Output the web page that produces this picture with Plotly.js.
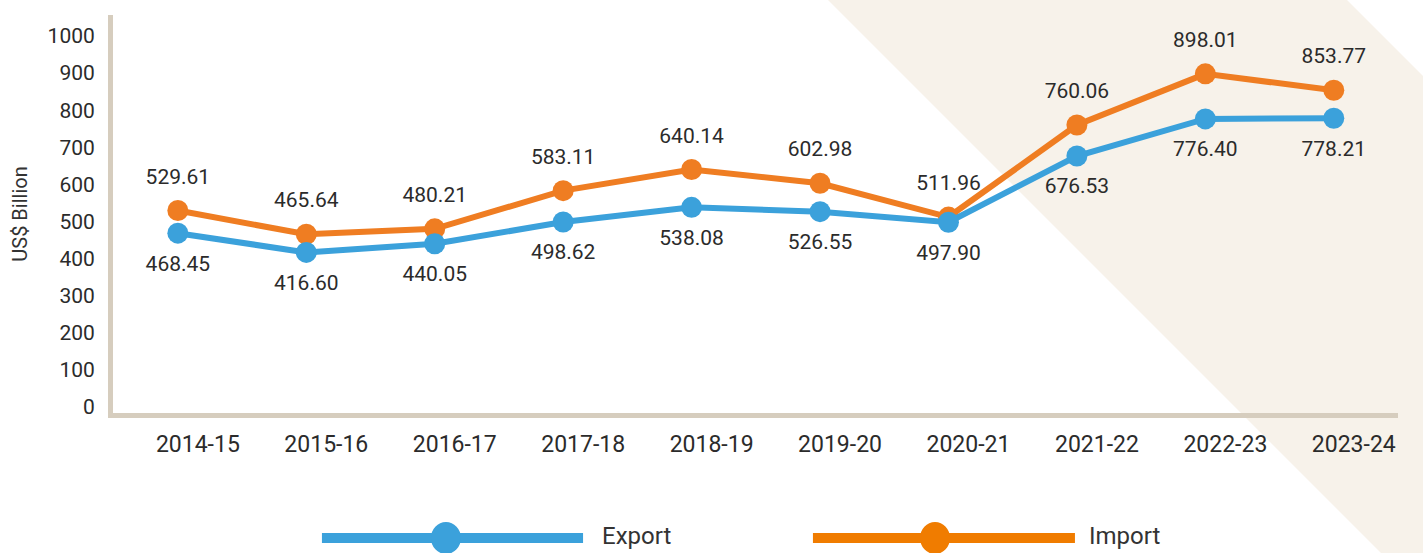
<!DOCTYPE html>
<html>
<head>
<meta charset="utf-8">
<script src="https://cdn.plot.ly/plotly-3.0.1.min.js"></script>
<style>html,body{margin:0;padding:0;background:#fff;}#chart{width:1423px;height:553px;}</style>
</head>
<body>
<div id="chart"></div>
<script>
const years = ["2014-15","2015-16","2016-17","2017-18","2018-19","2019-20","2020-21","2021-22","2022-23","2023-24"];
const exportVals = [468.45,416.60,440.05,498.62,538.08,526.55,497.90,676.53,776.40,778.21];
const importVals = [529.61,465.64,480.21,583.11,640.14,602.98,511.96,760.06,898.01,853.77];
const yTicks = [0,100,200,300,400,500,600,700,800,900,1000];

const BLUE = "#3BA1DB", ORANGE = "#EF7D22", AXIS = "#D6CDBE", TXT = "#2b2b2b";
const FONT = "Roboto, 'Noto Sans', sans-serif";

const fmt = v => v.toFixed(2);

const traces = [
  {x: years, y: importVals, name: "Import", mode: "lines+markers",
   line: {color: ORANGE, width: 6}, marker: {color: ORANGE, size: 21}, showlegend: false},
  {x: years, y: exportVals, name: "Export", mode: "lines+markers",
   line: {color: BLUE, width: 6}, marker: {color: BLUE, size: 21}, showlegend: false},
  {x: years, y: importVals, mode: "markers+text", text: importVals.map(fmt), textposition: "top center",
   marker: {size: 33, color: "rgba(0,0,0,0)"}, textfont: {family: FONT, size: 21, color: TXT},
   showlegend: false, hoverinfo: "skip"},
  {x: years, y: exportVals, mode: "markers+text", text: exportVals.map(fmt), textposition: "bottom center",
   marker: {size: 33, color: "rgba(0,0,0,0)"}, textfont: {family: FONT, size: 21, color: TXT},
   showlegend: false, hoverinfo: "skip"}
];

const legY = -0.3141;
const shapes = [
  {type: "path", xref: "paper", yref: "paper", layer: "below",
   path: "M0.5525,1.0503 L0.9564,1.0503 L1.0327,0.804 L1.0327,-0.3693 L0.9922,-0.3693 Z",
   fillcolor: "rgb(247,242,234)", line: {width: 0}},
  {type: "line", xref: "paper", yref: "paper", x0: 0.1626, x1: 0.3658, y0: legY, y1: legY,
   line: {color: BLUE, width: 10}},
  {type: "circle", xref: "paper", yref: "paper", xsizemode: "pixel", ysizemode: "pixel",
   xanchor: 0.2591, yanchor: legY, x0: -15, x1: 15, y0: -16, y1: 16, fillcolor: BLUE, line: {width: 0}},
  {type: "line", xref: "paper", yref: "paper", x0: 0.5447, x1: 0.7486, y0: legY, y1: legY,
   line: {color: "#F07C00", width: 10}},
  {type: "circle", xref: "paper", yref: "paper", xsizemode: "pixel", ysizemode: "pixel",
   xanchor: 0.6397, yanchor: legY, x0: -15, x1: 15, y0: -16, y1: 16, fillcolor: "#F07C00", line: {width: 0}}
];

const annotations = [
  {xref: "paper", yref: "paper", x: 0.3790, y: -0.3090, xanchor: "left", yanchor: "middle",
   text: "Export", showarrow: false, font: {family: FONT, size: 24, color: "#333"}},
  {xref: "paper", yref: "paper", x: 0.7580, y: -0.3090, xanchor: "left", yanchor: "middle",
   text: "Import", showarrow: false, font: {family: FONT, size: 24, color: "#333"}}
];

const layout = {
  width: 1423, height: 553,
  margin: {l: 113, r: 25, t: 15, b: 140, pad: 0},
  paper_bgcolor: "#ffffff", plot_bgcolor: "rgba(0,0,0,0)",
  showlegend: false,
  font: {family: FONT, color: TXT},
  xaxis: {
    type: "category", range: [-0.505, 9.5], showgrid: false, zeroline: false,
    showline: true, linecolor: AXIS, linewidth: 5, ticks: "",
    tickfont: {family: FONT, size: 23, color: TXT}, ticklabelstandoff: 6, ticklabelshift: 20,
    fixedrange: true
  },
  yaxis: {
    range: [-16.2, 1056.6], tickvals: yTicks, ticktext: yTicks.map(String),
    showgrid: false, zeroline: false, showline: true, linecolor: AXIS, linewidth: 5, ticks: "",
    tickfont: {family: FONT, size: 21, color: TXT}, ticklabelstandoff: 9,
    title: {text: "US$ Billion", font: {family: FONT, size: 20, color: "#333"}, standoff: 16},
    fixedrange: true
  },
  shapes: shapes,
  annotations: annotations
};

Plotly.newPlot("chart", traces, layout, {displayModeBar: false, staticPlot: true});
</script>
</body>
</html>
